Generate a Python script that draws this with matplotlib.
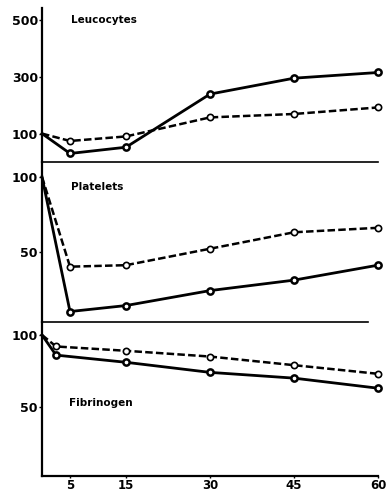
import matplotlib
matplotlib.use("Agg")
import matplotlib.pyplot as plt

# Werte (Minuten, % des Ausgangswertes)
times = [0, 5, 15, 30, 45, 60]
fib_times = [0, 2.5, 15, 30, 45, 60]

leuco_solid = [100, 30, 52, 239, 295, 315]
leuco_dashed = [100, 74, 90, 157, 169, 192]
plat_solid = [100, 10, 14, 24, 31, 41]
plat_dashed = [100, 40, 41, 52, 63, 66]
fib_solid = [100, 86, 81, 74, 70, 63]
fib_dashed = [100, 92, 89, 85, 79, 73]

x_ticks = [5, 15, 30, 45, 60]

W, H = 387, 492
fig = plt.figure(figsize=(W / 100, H / 100), dpi=100)

def px_axes(top, bottom, left=42, right=378):
    return fig.add_axes([left / W, 1 - bottom / H, (right - left) / W, (bottom - top) / H])

ax1 = px_axes(8, 162)
ax2 = px_axes(162, 322)
ax3 = px_axes(322, 476)

def draw(ax, t, solid, dashed):
    ax.plot(t, solid, color="black", lw=2.0, marker="o", ms=4.5, mfc="white",
            mec="black", mew=1.8, markevery=slice(1, None), clip_on=False, zorder=3)
    ax.plot(t, dashed, color="black", lw=1.8, ls=(0, (3, 1.3)), marker="o", ms=4.5,
            mfc="white", mec="black", mew=1.2, markevery=slice(1, None), clip_on=False,
            zorder=3)

draw(ax1, times, leuco_solid, leuco_dashed)
draw(ax2, times, plat_solid, plat_dashed)
draw(ax3, fib_times, fib_solid, fib_dashed)

ax1.set_ylim(0, 542)
ax1.set_yticks([100, 300, 500])
ax2.set_ylim(3, 110)
ax2.set_yticks([50, 100])
ax3.set_ylim(2, 109)
ax3.set_yticks([50, 100])

for ax in (ax1, ax2, ax3):
    ax.set_xlim(0, 60)
    ax.spines["top"].set_visible(False)
    ax.spines["right"].set_visible(False)
    ax.spines["left"].set_linewidth(1.6)
    ax.spines["bottom"].set_linewidth(1.2)
    ax.set_facecolor("none")
    ax.tick_params(axis="y", length=2, width=1, pad=1, labelsize=9)
    ax.tick_params(axis="x", length=1.5, width=1, pad=0.5, labelsize=8.5)

ax1.set_xticks([])
ax2.set_xticks([])
ax2.spines["bottom"].set_bounds(0, 58.3)
ax3.set_xticks(x_ticks)
ax3.spines["bottom"].set_linewidth(1.6)

for ax in (ax1, ax2, ax3):
    for lab in ax.get_yticklabels() + ax.get_xticklabels():
        lab.set_fontweight("bold")

ax1.text(5.2, 500, "Leucocytes", fontsize=7.5, fontweight="bold", va="center")
ax2.text(5.2, 93.5, "Platelets", fontsize=7.5, fontweight="bold", va="center")
ax3.text(4.8, 53, "Fibrinogen", fontsize=7.5, fontweight="bold", va="center")

fig.savefig("out.png", dpi=100)
